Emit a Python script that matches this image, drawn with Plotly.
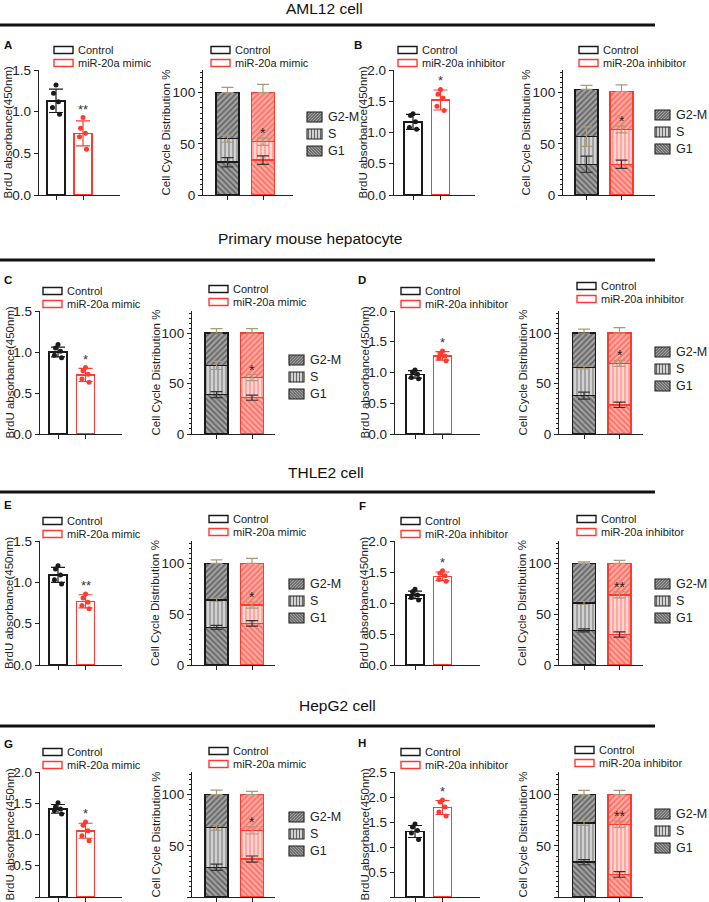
import plotly.graph_objects as go

W, H = 709, 902
FONT = "Arial, Liberation Sans, sans-serif"

# ---------------- data ----------------
row_titles = ["AML12 cell", "Primary mouse hepatocyte", "THLE2 cell", "HepG2 cell"]
panel_letters = ["A", "B", "C", "D", "E", "F", "G", "H"]
ctrl_name = "Control"
treat_names = ["miR-20a mimic", "miR-20a inhibitor"] * 4
phase_names = ["G2-M", "S", "G1"]
brdu_title = "BrdU absorbance(450nm)"
cc_title = "Cell Cycle Distribution %"

brdu_ymax = [1.5, 2.0, 1.5, 2.0, 1.5, 2.0, 2.0, 2.5]
brdu_ctrl_mean = [1.13, 1.17, 1.00, 0.97, 1.09, 1.13, 1.41, 1.31]
brdu_ctrl_sd = [0.14, 0.12, 0.06, 0.06, 0.09, 0.06, 0.07, 0.12]
brdu_trt_mean = [0.74, 1.52, 0.72, 1.27, 0.77, 1.43, 1.06, 1.79]
brdu_trt_sd = [0.15, 0.16, 0.08, 0.07, 0.08, 0.07, 0.12, 0.14]
brdu_ctrl_pts = [
    [1.32, 1.22, 1.12, 1.05, 0.97],
    [1.30, 1.27, 1.17, 1.08, 1.05],
    [1.09, 1.05, 1.01, 0.96, 0.93],
    [1.04, 1.01, 0.97, 0.92, 0.90],
    [1.20, 1.16, 1.09, 1.03, 0.98],
    [1.22, 1.18, 1.13, 1.09, 1.05],
    [1.51, 1.44, 1.41, 1.38, 1.33],
    [1.46, 1.40, 1.33, 1.28, 1.15],
]
brdu_trt_pts = [
    [0.93, 0.80, 0.74, 0.70, 0.55],
    [1.69, 1.61, 1.55, 1.42, 1.35],
    [0.81, 0.77, 0.73, 0.67, 0.63],
    [1.35, 1.31, 1.27, 1.23, 1.19],
    [0.86, 0.81, 0.76, 0.72, 0.68],
    [1.52, 1.48, 1.44, 1.38, 1.35],
    [1.20, 1.15, 1.06, 0.98, 0.90],
    [1.94, 1.90, 1.80, 1.70, 1.62],
]
brdu_sig = ["**", "*", "*", "*", "**", "*", "*", "*"]

cc_ctrl_g1 = [32, 30, 39, 38, 37, 34, 29, 34]
cc_ctrl_s = [23, 27, 29, 28, 27, 27, 39, 38]
cc_ctrl_g2m = [45, 46, 32, 34, 36, 39, 32, 28]
cc_trt_g1 = [34, 30, 36, 29, 41, 30, 37, 22]
cc_trt_s = [18, 34, 20, 41, 18, 39, 28, 49]
cc_trt_g2m = [48, 37, 44, 30, 41, 31, 35, 29]
cc_ctrl_g1_err = [4.5, 8, 3, 3.5, 2, 1.5, 3, 2.5]
cc_ctrl_s_err = [3.5, 9.5, 4, 1.5, 1.5, 1.5, 3, 2]
cc_ctrl_g2m_err = [5, 4, 4.5, 4, 3.5, 1.5, 4.3, 4]
cc_trt_g1_err = [4.2, 4, 2.5, 2.7, 2.7, 2.5, 3, 2.7]
cc_trt_s_err = [3.5, 3.3, 3, 3, 3, 3, 3.5, 3]
cc_trt_g2m_err = [8, 6.5, 4.5, 5.5, 5, 3, 3, 4]
cc_sig = ["*", "*", "*", "*", "*", "**", "*", "**"]

# ---------------- layout geometry (pixels) ----------------
row_y0 = [195, 434, 665, 897]
row_ytop = [70, 311, 541, 772]
CC_TOP = 122
brdu_geom = [(39, 56, 83, 120), (394, 413, 440.5, 475),
             (40, 58, 85.5, 122), (395, 415, 442.5, 480),
             (40, 58, 85.5, 122), (395, 415, 442.5, 480),
             (40, 58, 85.5, 122), (395, 415, 442.5, 480)]
cc_geom = [(203, 227.5, 263, 293), (563, 586.5, 621.5, 655),
           (192, 216.5, 252, 275), (559, 584, 619.5, 643),
           (192, 216.5, 252, 275), (559, 584, 619.5, 643),
           (192, 216.5, 252, 275), (559, 584, 619.5, 643)]
brdu_leg = [(54, 50), (398, 50), (43, 291), (401, 291), (43, 521), (401, 521), (43, 752), (401, 752)]
cc_leg = [(211, 50), (579, 50), (209, 289), (577, 286), (209, 519), (577, 519), (209, 751), (575, 750)]
ph_leg_x = [307, 655, 289, 655, 289, 655, 289, 655]
ph_leg_y = [117, 115, 360, 352, 584, 584, 817, 814]
letter_pos = [(8, 45), (358, 45), (8, 280), (362, 280), (8, 505), (362, 506), (8, 744), (362, 743)]
header_pos = [(324, 8), (310, 238), (326, 472), (337, 705)]
header_line_y = [25, 260, 492, 726]
jitter = [0.0, -0.14, 0.14, -0.2, 0.2]

BLACK = "#1a1a1a"
RED = "#ff3b30"
TAN = "#a89a7c"
BAR_W = 0.65

ctrl_pat = dict(g=("#262626", "#a2a2a2"), s=("#474747", "#d2d2d2"))
trt_pat = dict(g=("#ff2e22", "#ffaca4"), s=("#ff4e42", "#ffd6d2"))


def px(x):
    return x / W


def py(y):
    return 1 - y / H


def xrange_from(g):
    ax, c0, c1, end = g
    u = c1 - c0
    return [(ax - c0) / u, (end - c0) / u]


fig = go.Figure()
layout = dict(
    width=W, height=H, autosize=False,
    margin=dict(l=0, r=0, t=0, b=0, pad=0, autoexpand=False),
    paper_bgcolor="white", plot_bgcolor="white",
    barmode="stack", showlegend=False,
    font=dict(family=FONT, size=12, color="#222"),
)
shapes = []
annotations = []


def axis_common():
    return dict(showline=True, linecolor="#222", linewidth=1.3, showgrid=False,
                zeroline=False, ticks="outside", ticklen=4, tickcolor="#222",
                tickwidth=1.2, fixedrange=True)


def hatch_path(x0, y0, w, h, kind, step=3.0):
    segs = []
    if kind == "|":
        k = step / 2
        while k < w:
            segs.append(((k, 0), (k, h)))
            k += step
    else:
        c = -h + step / 2
        while c < w:
            s = (c, 0.0) if c >= 0 else (0.0, -c)
            e = (c + h, h) if c + h <= w else (w, w - c)
            if kind == "\\":
                s = (w - s[0], s[1])
                e = (w - e[0], e[1])
            segs.append((s, e))
            c += step
    parts = []
    for (a, b) in segs:
        ax_, ay_ = x0 + a[0], y0 + h - a[1]
        bx_, by_ = x0 + b[0], y0 + h - b[1]
        parts.append(f"M{px(ax_):.5f},{py(ay_):.5f} L{px(bx_):.5f},{py(by_):.5f}")
    return " ".join(parts)


def legend_pair(x0, yc, treat):
    for j, (name, col) in enumerate([(ctrl_name, BLACK), (treat, RED)]):
        y = yc + 13 * j
        shapes.append(dict(type="rect", xref="paper", yref="paper",
                           x0=px(x0), x1=px(x0 + 19), y0=py(y + 3.5), y1=py(y - 3.5),
                           line=dict(color=col, width=1.4), fillcolor="white"))
        annotations.append(dict(xref="paper", yref="paper", x=px(x0 + 22), y=py(y),
                                text=name, showarrow=False, xanchor="left", yanchor="middle",
                                font=dict(size=11, family=FONT, color="#222")))


for p in range(8):
    r = p // 2
    bi, ci = 2 * p + 1, 2 * p + 2
    ydom = [py(row_y0[r]), py(row_ytop[r])]

    # ---- BrdU panel ----
    g = brdu_geom[p]
    xa = axis_common()
    xa.update(domain=[px(g[0]), px(g[3])], range=xrange_from(g), anchor=f"y{bi}",
              tickvals=[0, 1], showticklabels=False)
    ya = axis_common()
    ya.update(domain=ydom, range=[0, brdu_ymax[p]], anchor=f"x{bi}", dtick=0.5, tick0=0,
              tickformat=".1f", tickfont=dict(size=13.5, family=FONT, color="#222"))
    layout[f"xaxis{bi}"] = xa
    layout[f"yaxis{bi}"] = ya

    fig.add_trace(go.Bar(x=[0, 1], y=[brdu_ctrl_mean[p], brdu_trt_mean[p]], width=BAR_W,
                         marker=dict(color="white", line=dict(color=[BLACK, RED], width=1.5)),
                         xaxis=f"x{bi}", yaxis=f"y{bi}", showlegend=False, hoverinfo="skip"))
    for gi, (mean, sd, pts, col) in enumerate([
            (brdu_ctrl_mean[p], brdu_ctrl_sd[p], brdu_ctrl_pts[p], BLACK),
            (brdu_trt_mean[p], brdu_trt_sd[p], brdu_trt_pts[p], RED)]):
        fig.add_trace(go.Scatter(x=[gi], y=[mean], mode="markers",
                                 marker=dict(size=1, color="rgba(0,0,0,0)"),
                                 error_y=dict(type="data", array=[sd], visible=True,
                                              color=col, thickness=1.2, width=7),
                                 xaxis=f"x{bi}", yaxis=f"y{bi}", showlegend=False,
                                 hoverinfo="skip"))
        fig.add_trace(go.Scatter(x=[gi + jitter[k] * BAR_W for k in range(len(pts))], y=pts,
                                 mode="markers", marker=dict(size=5, color=col),
                                 xaxis=f"x{bi}", yaxis=f"y{bi}", showlegend=False,
                                 hoverinfo="skip"))
    top = max(brdu_trt_mean[p] + brdu_trt_sd[p], max(brdu_trt_pts[p]))
    annotations.append(dict(xref=f"x{bi}", yref=f"y{bi}", x=1, y=top, text=brdu_sig[p],
                            showarrow=False, yanchor="bottom", yshift=-1,
                            font=dict(size=13, family=FONT, color="#333")))
    annotations.append(dict(xref="paper", yref="paper", x=px(g[0] - 31),
                            y=py((row_y0[r] + row_ytop[r]) / 2), text=brdu_title,
                            textangle=-90, showarrow=False, xanchor="center", yanchor="middle",
                            font=dict(size=11.5, family=FONT, color="#222")))
    legend_pair(brdu_leg[p][0], brdu_leg[p][1], treat_names[p])

    # ---- Cell cycle panel ----
    g = cc_geom[p]
    xa = axis_common()
    xa.update(domain=[px(g[0]), px(g[3])], range=xrange_from(g), anchor=f"y{ci}",
              tickvals=[0, 1], showticklabels=False)
    ya = axis_common()
    ya.update(domain=ydom, range=[0, CC_TOP], anchor=f"x{ci}", tick0=0, dtick=50,
              tickfont=dict(size=13.5, family=FONT, color="#222"),
              minor=dict(dtick=5, ticks="outside", ticklen=2, tickcolor="#222", tickwidth=1))
    layout[f"xaxis{ci}"] = xa
    layout[f"yaxis{ci}"] = ya

    groups = [
        (0, BLACK, ctrl_pat, [cc_ctrl_g1[p], cc_ctrl_s[p], cc_ctrl_g2m[p]],
         [cc_ctrl_g1_err[p], cc_ctrl_s_err[p], cc_ctrl_g2m_err[p]]),
        (1, RED, trt_pat, [cc_trt_g1[p], cc_trt_s[p], cc_trt_g2m[p]],
         [cc_trt_g1_err[p], cc_trt_s_err[p], cc_trt_g2m_err[p]]),
    ]
    for gi, col, pat, vals, errs in groups:
        shapes_kind = [("\\", "g", 0.45), ("|", "s", 0.35), ("/", "g", 0.45)]
        for k in range(3):
            shp, key, sol = shapes_kind[k]
            fg, bg = pat[key]
            fig.add_trace(go.Bar(x=[gi], y=[vals[k]], width=BAR_W,
                                 marker=dict(color=bg, line=dict(color=col, width=1.5),
                                             pattern=dict(shape=shp, fgcolor=fg, bgcolor=bg,
                                                          size=4, solidity=sol)),
                                 xaxis=f"x{ci}", yaxis=f"y{ci}", showlegend=False,
                                 hoverinfo="skip"))
    for gi, col, pat, vals, errs in groups:
        cum = 0
        for k in range(3):
            cum += vals[k]
            ecol = "#333" if k == 0 else TAN
            fig.add_trace(go.Scatter(x=[gi], y=[cum], mode="markers",
                                     marker=dict(size=1, color="rgba(0,0,0,0)"),
                                     error_y=dict(type="data", array=[errs[k]],
                                                  arrayminus=[errs[k] if k < 2 else 0],
                                                  symmetric=False, visible=True,
                                                  color=ecol, thickness=1.2, width=6),
                                     xaxis=f"x{ci}", yaxis=f"y{ci}", showlegend=False,
                                     hoverinfo="skip"))
    annotations.append(dict(xref=f"x{ci}", yref=f"y{ci}", x=1,
                            y=cc_trt_g1[p] + cc_trt_s[p] + cc_trt_s_err[p], text=cc_sig[p],
                            showarrow=False, yanchor="bottom", yshift=-5,
                            font=dict(size=14, family=FONT, color="#222")))
    annotations.append(dict(xref="paper", yref="paper", x=px(g[0] - 37),
                            y=py((row_y0[r] + row_ytop[r]) / 2), text=cc_title,
                            textangle=-90, showarrow=False, xanchor="center", yanchor="middle",
                            font=dict(size=11.5, family=FONT, color="#222")))
    legend_pair(cc_leg[p][0], cc_leg[p][1], treat_names[p])

    # phase legend swatches
    for k, name in enumerate(phase_names):
        bx, by = ph_leg_x[p], ph_leg_y[p] + 17 * k
        kind = ["/", "|", "\\"][k]
        fg, bg = ctrl_pat["s" if kind == "|" else "g"]
        w, h = 15, 10
        shapes.append(dict(type="rect", xref="paper", yref="paper",
                           x0=px(bx), x1=px(bx + w), y0=py(by + h / 2), y1=py(by - h / 2),
                           line=dict(width=0), fillcolor=bg))
        shapes.append(dict(type="path", xref="paper", yref="paper",
                           path=hatch_path(bx, by - h / 2, w, h, kind),
                           line=dict(color=fg, width=0.8)))
        shapes.append(dict(type="rect", xref="paper", yref="paper",
                           x0=px(bx), x1=px(bx + w), y0=py(by + h / 2), y1=py(by - h / 2),
                           line=dict(color="#222", width=1.1), fillcolor="rgba(0,0,0,0)"))
        annotations.append(dict(xref="paper", yref="paper", x=px(bx + w + 4), y=py(by),
                                text=name, showarrow=False, xanchor="left", yanchor="middle",
                                font=dict(size=12.5, family=FONT, color="#222")))

    # panel letter
    annotations.append(dict(xref="paper", yref="paper", x=px(letter_pos[p][0]),
                            y=py(letter_pos[p][1]), text=f"<b>{panel_letters[p]}</b>",
                            showarrow=False, xanchor="center", yanchor="middle",
                            font=dict(size=11.5, family=FONT, color="#111")))

for r in range(4):
    annotations.append(dict(xref="paper", yref="paper", x=px(header_pos[r][0]),
                            y=py(header_pos[r][1]), text=row_titles[r], showarrow=False,
                            xanchor="center", yanchor="middle",
                            font=dict(size=15.5, family=FONT, color="#111")))
    shapes.append(dict(type="line", xref="paper", yref="paper", x0=0, x1=px(655),
                       y0=py(header_line_y[r]), y1=py(header_line_y[r]),
                       line=dict(color="#111", width=3)))

layout["shapes"] = shapes
layout["annotations"] = annotations
fig.update_layout(**layout)
fig.write_html("out.html",
               config={"displayModeBar": False, "staticPlot": False},
               post_script="document.body.style.margin='0';document.body.style.padding='0';"
                           "document.body.style.overflow='hidden';")
